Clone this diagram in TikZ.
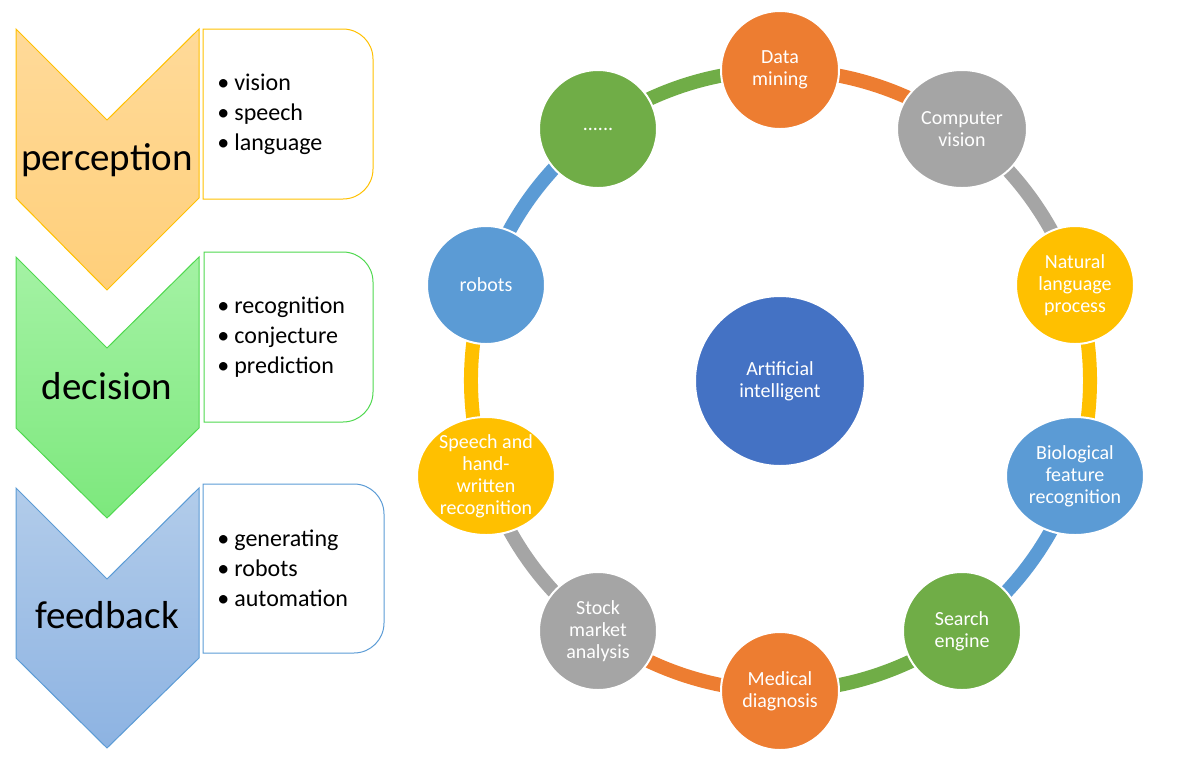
\documentclass[tikz,border=0pt]{standalone}
\usepackage{fontspec}
\setmainfont{Carlito}
\usetikzlibrary{shapes.geometric,backgrounds}

\definecolor{aiorange}{HTML}{ED7D31}
\definecolor{aigray}{HTML}{A5A5A5}
\definecolor{aiyellow}{HTML}{FFC000}
\definecolor{aiblue}{HTML}{5B9BD5}
\definecolor{aigreen}{HTML}{70AD47}
\definecolor{aidark}{HTML}{4472C4}
\definecolor{percTop}{HTML}{FFDA99}
\definecolor{percBot}{HTML}{FFCF7A}
\definecolor{decTop}{HTML}{A4F2A4}
\definecolor{decBot}{HTML}{7DE87D}
\definecolor{decLine}{HTML}{4FD84F}
\definecolor{fbTop}{HTML}{B2CCEA}
\definecolor{fbBot}{HTML}{8DB3E2}

\tikzset{
  bubble/.style={ellipse, fill=#1, draw=white, line width=1pt, text=white,
    inner sep=-1pt, minimum width=59pt, minimum height=59pt, align=center,
    font=\fontsize{10}{11}\selectfont},
  ring/.style={draw=#1, line width=7pt, bend left=18, looseness=0.87},
  stage/.style={font=\fontsize{19.5}{23}\selectfont},
  items/.style={anchor=west, align=left, inner sep=0pt, font=\fontsize{12}{15}\selectfont},
}
\newcommand{\itm}[1]{\makebox[8.5pt][l]{\textbullet}#1}

\begin{document}
\begin{tikzpicture}[x=0.5pt,y=-0.5pt]
  \useasboundingbox (0,0) rectangle (1180,757);

  % perception
  \shadedraw[top color=percTop, bottom color=percBot, draw=aiyellow, line width=0.5pt]
    (16,29) -- (107,120) -- (199,29) -- (199,198) -- (107,290) -- (16,198) -- cycle;
  \node[stage] (perc) at (107,160) {perception};
  \draw[aiyellow, line width=0.5pt] (203,29) -- (343,29) arc[start angle=-90, end angle=0, radius=30]
    -- (373,169) arc[start angle=0, end angle=90, radius=30] -- (203,199) -- cycle;
  \node[items] (percList) at (217,114) {\itm{vision}\\\itm{speech}\\\itm{language}};

  % decision
  \shadedraw[top color=decTop, bottom color=decBot, draw=decLine, line width=0.5pt]
    (16,257) -- (107,348) -- (199,257) -- (199,428) -- (107,518) -- (16,428) -- cycle;
  \node[stage] (dec) at (107,386) {decision};
  \draw[decLine, line width=0.5pt] (204,252) -- (343,252) arc[start angle=-90, end angle=0, radius=30]
    -- (373,392) arc[start angle=0, end angle=90, radius=30] -- (204,422) -- cycle;
  \node[items] (decList) at (217,337) {\itm{recognition}\\\itm{conjecture}\\\itm{prediction}};

  % feedback
  \shadedraw[top color=fbTop, bottom color=fbBot, draw=aiblue, line width=0.5pt]
    (16,488) -- (107,579) -- (199,488) -- (199,658) -- (107,748) -- (16,658) -- cycle;
  \node[stage] (fb) at (107,615) {feedback};
  \draw[aiblue, line width=0.5pt] (203,484) -- (354,484) arc[start angle=-90, end angle=0, radius=30]
    -- (384,623) arc[start angle=0, end angle=90, radius=30] -- (203,653) -- cycle;
  \node[items] (fbList) at (217,568) {\itm{generating}\\\itm{robots}\\\itm{automation}};

  % centre
  \node[bubble=aidark, minimum width=85pt, minimum height=85pt] (ai) at (780,381) {Artificial\\intelligent};

  % ring of applications
  \node[bubble=aiorange] (dm) at (780,70) {Data\\mining};
  \node[bubble=aigray, minimum width=65pt] (cv) at (962,129) {Computer\\vision};
  \node[bubble=aiyellow] (nlp) at (1075,285) {Natural\\language\\process};
  \node[bubble=aiblue, minimum width=69pt] (bio) at (1075,476) {Biological\\feature\\recognition};
  \node[bubble=aigreen] (se) at (962,631) {Search\\engine};
  \node[bubble=aiorange] (md) at (780,691) {Medical\\diagnosis};
  \node[bubble=aigray] (sm) at (598,631) {Stock\\market\\analysis};
  \node[bubble=aiyellow, minimum width=69pt] (sp) at (486,476) {Speech and\\hand-\\written\\recognition};
  \node[bubble=aiblue] (rb) at (486,285) {robots};
  \node[bubble=aigreen] (etc) at (598,129) {......};

  \begin{scope}[on background layer]
    \draw[ring=aiorange] (dm.center) to (cv.center);
    \draw[ring=aigray] (cv.center) to (nlp.center);
    \draw[ring=aiyellow] (nlp.center) to (bio.center);
    \draw[ring=aiblue] (bio.center) to (se.center);
    \draw[ring=aigreen] (se.center) to (md.center);
    \draw[ring=aiorange] (md.center) to (sm.center);
    \draw[ring=aigray] (sm.center) to (sp.center);
    \draw[ring=aiyellow] (sp.center) to (rb.center);
    \draw[ring=aiblue] (rb.center) to (etc.center);
    \draw[ring=aigreen] (etc.center) to (dm.center);
  \end{scope}
\end{tikzpicture}
\end{document}
